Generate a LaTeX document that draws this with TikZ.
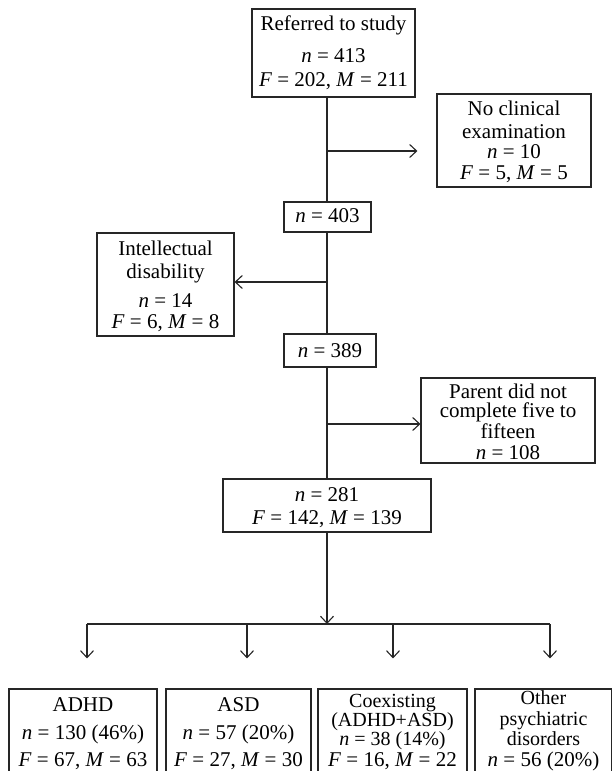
\documentclass[tikz,border=0pt]{standalone}
\usepackage{fontspec}
\setmainfont{Liberation Serif}
\usetikzlibrary{arrows.meta,calc}
\newcommand{\eqs}{\hspace{0.25em}=\hspace{0.25em}}
\newcommand{\vn}{\textit{n}}
\newcommand{\vF}{\textit{F}}
\newcommand{\vM}{\textit{M}}
\begin{document}
\begin{tikzpicture}[x=1pt,y=-1pt,
  box/.style={draw=black!85,line width=1.1pt,inner sep=0pt},
  txt/.style={font=\fontsize{21}{21}\selectfont,inner sep=0pt,anchor=base},
  stxt/.style={font=\fontsize{20}{20}\selectfont,inner sep=0pt,anchor=base},
  ln/.style={draw=black!85,line width=1.1pt},
  arr/.style={ln,-{Straight Barb[length=7pt,width=13pt,line width=1.1pt]}}]
\useasboundingbox (0,0) rectangle (611,771);
% boxes
\node[box,minimum width=163pt,minimum height=88pt] (top) at (333.5,53) {};
\node[box,minimum width=154pt,minimum height=93pt] (nc) at (514,140.5) {};
\node[box,minimum width=87pt,minimum height=30pt] (b403) at (327.5,217) {};
\node[box,minimum width=137pt,minimum height=103pt] (id) at (165.5,284.5) {};
\node[box,minimum width=92pt,minimum height=33pt] (b389) at (330,350.5) {};
\node[box,minimum width=174pt,minimum height=85pt] (pa) at (508,420.5) {};
\node[box,minimum width=208pt,minimum height=53pt] (b281) at (327,505.5) {};
\node[box,minimum width=148pt,minimum height=120pt] (adhd) at (83,749) {};
\node[box,minimum width=145pt,minimum height=120pt] (asd) at (238.5,749) {};
\node[box,minimum width=149pt,minimum height=120pt] (coex) at (392.5,749) {};
\node[box,minimum width=137pt,minimum height=120pt] (oth) at (543.5,749) {};
% texts
\node[txt] (t1) at (333.5,30) {Referred to study};
\node[txt] (t2) at (333.5,62) {\vn\eqs413};
\node[txt] (t3) at (333.5,86) {\vF\eqs202, \vM\eqs211};
\node[txt] (t4) at (514,115) {No clinical};
\node[txt] (t5) at (514,138.5) {examination};
\node[txt] (t6) at (514,158.5) {\vn\eqs10};
\node[txt] (t7) at (514,179) {\vF\eqs5, \vM\eqs5};
\node[txt] (t8) at (327.5,222) {\vn\eqs403};
\node[txt] (t9) at (165.5,255) {Intellectual};
\node[txt] (t10) at (165.5,278) {disability};
\node[txt] (t11) at (165.5,307) {\vn\eqs14};
\node[txt] (t12) at (165.5,328) {\vF\eqs6, \vM\eqs8};
\node[txt] (t13) at (330,357) {\vn\eqs389};
\node[txt] (t14) at (508,398) {Parent did not};
\node[txt] (t15) at (508,417) {complete five to};
\node[txt] (t16) at (508,438) {fifteen};
\node[txt] (t17) at (508,459) {\vn\eqs108};
\node[txt] (t18) at (327,501) {\vn\eqs281};
\node[txt] (t19) at (327,524) {\vF\eqs142, \vM\eqs139};
\node[txt] (t20) at (83,711) {ADHD};
\node[txt] (t21) at (83,739) {\vn\eqs130 (46\%)};
\node[txt] (t22) at (83,766) {\vF\eqs67, \vM\eqs63};
\node[txt] (t23) at (238.5,711) {ASD};
\node[txt] (t24) at (238.5,739) {\vn\eqs57 (20\%)};
\node[txt] (t25) at (238.5,766) {\vF\eqs27, \vM\eqs30};
\node[stxt] (t26) at (392.5,707) {Coexisting};
\node[stxt] (t27) at (392.5,726) {(ADHD+ASD)};
\node[stxt] (t28) at (392.5,745) {\vn\eqs38 (14\%)};
\node[txt] (t29) at (392.5,766) {\vF\eqs16, \vM\eqs22};
\node[stxt] (t30) at (543.5,704) {Other};
\node[stxt] (t31) at (543.5,725) {psychiatric};
\node[stxt] (t32) at (543.5,745.5) {disorders};
\node[txt] (t33) at (543.5,766) {\vn\eqs56 (20\%)};
% connectors
\coordinate (j1) at (327,151);
\coordinate (j2) at (327,282);
\coordinate (j3) at (327,424);
\coordinate (hj) at (327,624);
\coordinate (h1) at (87,624);
\coordinate (h2) at (247,624);
\coordinate (h3) at (393,624);
\coordinate (h4) at (550,624);
\draw[ln] (top.south -| j1) -- (b403.north -| j1);
\draw[arr,shorten >=19pt] (j1) -- (j1 -| nc.west);
\draw[ln] (b403.south -| j1) -- (b389.north -| j1);
\draw[arr] (j2) -- (j2 -| id.east);
\draw[ln] (b389.south -| j1) -- (b281.north -| j1);
\draw[arr] (j3) -- (j3 -| pa.west);
\draw[arr] (b281.south -| j1) -- (hj);
\draw[ln] (h1) -- (h4);
\draw[arr,shorten >=30pt] (h1) -- (h1 |- adhd.north);
\draw[arr,shorten >=30pt] (h2) -- (h2 |- asd.north);
\draw[arr,shorten >=30pt] (h3) -- (h3 |- coex.north);
\draw[arr,shorten >=30pt] (h4) -- (h4 |- oth.north);
\end{tikzpicture}
\end{document}
